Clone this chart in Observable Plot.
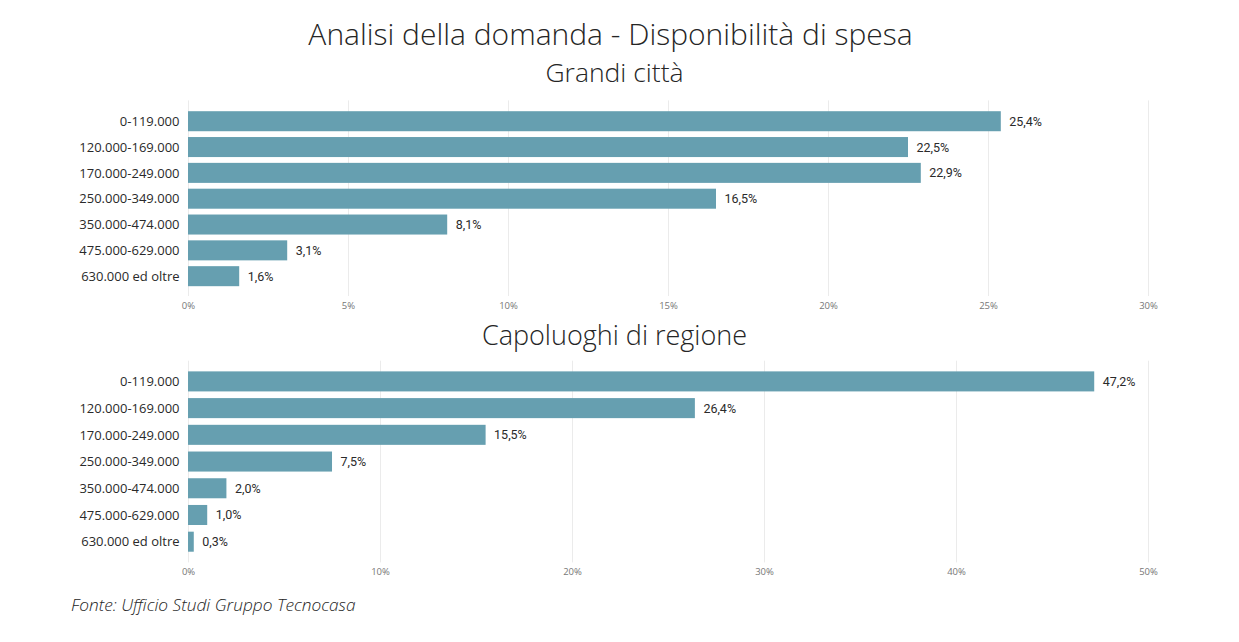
<!DOCTYPE html>
<html>
<head>
<meta charset="utf-8">
<script src="https://cdn.jsdelivr.net/npm/d3@7"></script>
<script src="https://cdn.jsdelivr.net/npm/@observablehq/plot@0.6"></script>
<style>
  html, body { margin: 0; padding: 0; background: #fff; }
  #root { position: relative; width: 1239px; height: 642px; overflow: hidden; font-family: "Open Sans", sans-serif; color: #252525; }
  .t { position: absolute; width: 1239px; text-align: center; font-weight: 300; white-space: nowrap; line-height: 1.2; }
  #title { top: 16px; left: -9px; font-size: 30px; }
  #sub1 { top: 57px; left: -5px; font-size: 26.5px; }
  #sub2 { top: 319px; left: -5px; font-size: 27px; }
  #fonte { position: absolute; left: 71px; top: 593px; font-size: 17.3px; font-style: italic; font-weight: 300; }
  .chart { position: absolute; left: 0; }
  #c1 { top: 95px; }
  #c2 { top: 352px; }
</style>
</head>
<body>
<div id="root">
  <div id="title" class="t">Analisi della domanda - Disponibilità di spesa</div>
  <div id="sub1" class="t">Grandi città</div>
  <div id="sub2" class="t">Capoluoghi di regione</div>
  <div id="c1" class="chart"></div>
  <div id="c2" class="chart"></div>
  <div id="fonte">Fonte: Ufficio Studi Gruppo Tecnocasa</div>
</div>
<script>
const categories = ["0-119.000","120.000-169.000","170.000-249.000","250.000-349.000","350.000-474.000","475.000-629.000","630.000 ed oltre"];
const grandiCitta = [25.4, 22.5, 22.9, 16.5, 8.1, 3.1, 1.6];
const capoluoghi = [47.2, 26.4, 15.5, 7.5, 2.0, 1.0, 0.3];
const ticksTop = [0, 5, 10, 15, 20, 25, 30];
const ticksBottom = [0, 10, 20, 30, 40, 50];

const barColor = "#669fb0";
const fmt = v => v.toFixed(1).replace(".", ",") + "%";

function chart(values, ticks, opts) {
  const data = categories.map((c, i) => ({cat: c, v: values[i]}));
  const max = ticks[ticks.length - 1];
  return Plot.plot({
    width: 1239,
    height: opts.height,
    marginLeft: 188,
    marginRight: 91,
    marginTop: opts.marginTop,
    marginBottom: opts.marginBottom,
    style: {fontFamily: "Open Sans, sans-serif", background: "transparent"},
    x: {domain: [0, max], label: null},
    y: {domain: categories, padding: opts.padding, round: false, label: null},
    marks: [
      Plot.ruleX(ticks, {stroke: "#ebebeb", strokeWidth: 1, insetTop: -opts.gridExtra, insetBottom: -4}),
      Plot.barX(data, {x: "v", y: "cat", fill: barColor}),
      Plot.text(data, {x: "v", y: "cat", text: d => fmt(d.v), dx: 8, textAnchor: "start", fontSize: 12.5, fontWeight: 400, fill: "#2a2a2a", fontFamily: "Roboto, sans-serif"}),
      Plot.axisX({ticks: ticks, tickFormat: d => d + "%", tickSize: 0, tickPadding: opts.tickPad, fontSize: 9.5, fill: "#777", label: null}),
      Plot.axisY({tickSize: 0, tickPadding: 9, fontSize: 13, fill: "#2a2a2a", label: null})
    ]
  });
}

document.getElementById("c1").append(chart(grandiCitta, ticksTop, {height: 225, marginTop: 10.4, marginBottom: 28, padding: 0.225, gridExtra: 5, tickPad: 10}));
document.getElementById("c2").append(chart(capoluoghi, ticksBottom, {height: 234.4, marginTop: 12.7, marginBottom: 28, padding: 0.25, gridExtra: 4, tickPad: 9.5}));
</script>
</body>
</html>
